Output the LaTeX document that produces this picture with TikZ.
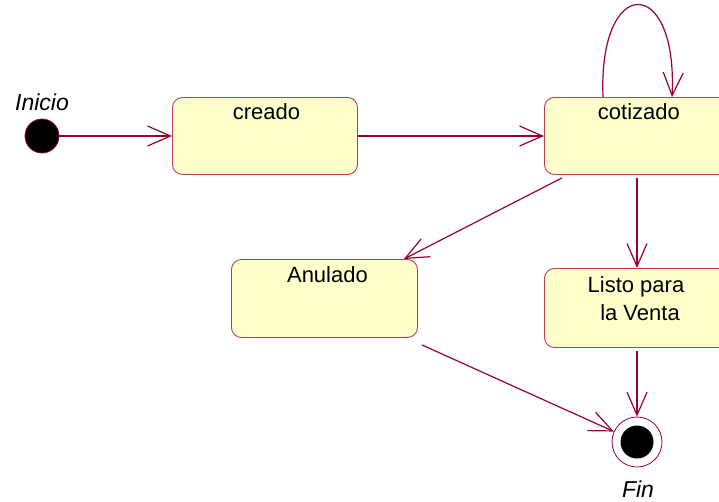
\documentclass[tikz,border=0pt]{standalone}
\usepackage{fontspec}
\setmainfont{Liberation Sans}
\usetikzlibrary{arrows.meta,calc}
\definecolor{edge}{RGB}{153,0,51}
\definecolor{boxline}{RGB}{190,60,90}
\definecolor{boxfill}{RGB}{255,255,204}
\tikzset{
  statebox/.style={draw=boxline, fill=boxfill, rounded corners=10pt, line width=0.9pt, anchor=north west, inner sep=0pt},
  lbl/.style={font=\fontsize{22}{26}\selectfont, anchor=base, inner sep=0pt},
  ilbl/.style={font=\fontsize{23}{27}\selectfont\itshape, anchor=base, inner sep=0pt},
  trans/.style={draw=edge, line width=1.2pt, -{Straight Barb[length=23pt,width=20pt,line width=1.2pt]}},
}
\begin{document}
\begin{tikzpicture}[x=1pt,y=-1pt]
\useasboundingbox (0,0) rectangle (719,501);
\clip (0,0) rectangle (719,501);
% states
\node[statebox, minimum width=185pt, minimum height=77pt] (creado) at (172,97) {};
\node[statebox, minimum width=189pt, minimum height=77pt] (cot) at (544,97) {};
\node[statebox, minimum width=186pt, minimum height=78pt] (anul) at (231,259) {};
\node[statebox, minimum width=189pt, minimum height=79pt] (listo) at (544,268) {};
% texts
\node[lbl] (tcreado) at ($(creado.north)+(1.5,22)$) {creado};
\node[lbl] (tcot) at ($(cot.north)+(0,22)$) {cotizado};
\node[lbl] (tanul) at ($(anul.north)+(3,23)$) {Anulado};
\node[lbl] (tlisto1) at ($(listo.north)+(-3,24)$) {Listo para};
\node[lbl] (tlisto2) at ($(listo.north)+(-2,52)$) {\ la Venta};
% initial and final
\node[circle, draw=edge, fill=black, minimum size=34pt, inner sep=0pt, line width=0.8pt] (ini) at (42,136) {};
\node[ilbl] (tini) at (42,110) {Inicio};
\node[circle, draw=edge, fill=white, minimum size=50pt, inner sep=0pt, line width=0.8pt] (fin) at (637,442) {};
\node[circle, fill=black, minimum size=33pt, inner sep=0pt] (fininner) at (fin) {};
\node[ilbl] (tfin) at (638,497) {Fin};
% transitions
\draw[trans] (ini) -- (creado.west |- ini);
\draw[trans] (creado.east |- ini) -- (cot.west |- ini);
\coordinate (l1) at ($(cot.north west)+(59,0)$);
\coordinate (l2) at ($(cot.north west)+(128,0)$);
\draw[trans] (l1) .. controls (598,-26) and (678,-26) .. (l2);
\draw[trans] ($(cot.south west)+(18,3)$) -- ($(anul.north east)+(-14,0)$);
\draw[trans] ($(cot.south west)+(93,3)$) -- ($(listo.north west)+(93,0)$);
\draw[trans] ($(listo.south west)+(93,3)$) -- (fin.north);
\draw[trans] ($(anul.south east)+(4,7)$) -- (fin);
\end{tikzpicture}
\end{document}
